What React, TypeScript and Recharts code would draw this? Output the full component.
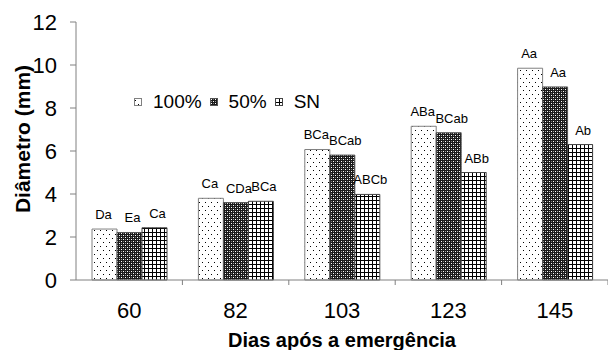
import React from 'react';
import { BarChart, Bar, XAxis, YAxis, LabelList, Label } from 'recharts';

const dias = ['60', '82', '103', '123', '145'];
const s100 = [2.37, 3.8, 6.07, 7.15, 9.85];
const s50 = [2.21, 3.6, 5.81, 6.85, 8.98];
const sSN = [2.43, 3.66, 3.98, 5.0, 6.3];
const lab100 = ['Da', 'Ca', 'BCa', 'ABa', 'Aa'];
const lab50 = ['Ea', 'CDa', 'BCab', 'BCab', 'Aa'];
const labSN = ['Ca', 'BCa', 'ABCb', 'ABb', 'Ab'];
const yTicks = [0, 2, 4, 6, 8, 10, 12];

const series = [
  { key: 'v100', name: '100%', fill: 'url(#pDots)', stroke: '#808080', dx: -1 },
  { key: 'v50', name: '50%', fill: 'url(#pCheck)', stroke: '#555', dx: 3 },
  { key: 'vSN', name: 'SN', fill: 'url(#pGrid)', stroke: '#444', dx: 3 },
];

const data = dias.map((d, i) => ({
  dia: d,
  v100: s100[i],
  v50: s50[i],
  vSN: sSN[i],
  l100: lab100[i],
  l50: lab50[i],
  lSN: labSN[i],
}));

const font = "'Liberation Sans', Arial, sans-serif";

const XTick = (props: any) => {
  const { x, y, payload, width } = props;
  const half = payload.offset ?? width / dias.length / 2;
  return (
    <g>
      <line x1={x + half} x2={x + half} y1={y} y2={y + 5} stroke="#808080" />
      <text x={x} y={y + 38} textAnchor="middle" fontSize={22} fill="#000" fontFamily={font}>
        {payload.value}
      </text>
    </g>
  );
};

const LegendBox = () => (
  <div
    style={{
      position: 'absolute',
      left: 134,
      top: 91,
      display: 'flex',
      alignItems: 'center',
      fontFamily: font,
      fontSize: 19,
      color: '#000',
      lineHeight: '22px',
    }}
  >
    {series.map((s) => (
      <div key={s.key} style={{ display: 'flex', alignItems: 'center', marginRight: 8 }}>
        <svg width={8} height={8} style={{ marginRight: 11 }}>
          <rect x={0.5} y={0.5} width={7} height={7} fill={s.fill} stroke={s.stroke} />
        </svg>
        <span>{s.name}</span>
      </div>
    ))}
  </div>
);

const makeLabel = (dx: number) => (props: any) => {
  const { x, y, width, value } = props;
  return (
    <text
      x={x + width / 2 + dx}
      y={y - 10}
      textAnchor="middle"
      fontSize={13}
      fill="#000"
      fontFamily={font}
    >
      {value}
    </text>
  );
};

export default function App() {
  return (
    <div style={{ position: 'absolute', left: 0, top: 0, width: 608, height: 350, background: '#fff' }}>
      <BarChart
        width={608}
        height={350}
        data={data}
        margin={{ top: 22, right: 0, left: 0, bottom: 0 }}
        barCategoryGap={16}
        barGap={0}
      >
        <defs>
          <pattern id="pDots" width={6} height={8} patternUnits="userSpaceOnUse">
            <rect width={6} height={8} fill="#fff" />
            <rect x={1} y={2} width={1} height={1} fill="#000" />
            <rect x={4} y={6} width={1} height={1} fill="#000" />
          </pattern>
          <pattern id="pCheck" width={4} height={4} patternUnits="userSpaceOnUse">
            <rect width={4} height={4} fill="#1a1a1a" />
            <rect x={1} y={1} width={1} height={1} fill="#fff" />
            <rect x={3} y={3} width={1} height={1} fill="#fff" />
            <rect x={1} y={3} width={1} height={1} fill="#999" />
            <rect x={3} y={1} width={1} height={1} fill="#777" />
          </pattern>
          <pattern id="pGrid" width={4} height={4} patternUnits="userSpaceOnUse">
            <rect width={4} height={4} fill="#fff" />
            <rect x={0} y={0} width={1} height={4} fill="#000" />
            <rect x={0} y={0} width={4} height={1} fill="#000" />
          </pattern>
        </defs>
        <XAxis
          dataKey="dia"
          height={70}
          stroke="#808080"
          tickLine={false}
          tickSize={0}
          tickMargin={0}
          tick={<XTick />}
          interval={0}
        >
          <Label
            value="Dias após a emergência"
            position="insideBottom"
            offset={3}
            style={{ fontWeight: 'bold', fontSize: 20, fill: '#000', fontFamily: font }}
          />
        </XAxis>
        <YAxis
          width={76}
          domain={[0, 12]}
          ticks={yTicks}
          stroke="#808080"
          tickSize={6}
          tickMargin={13}
          tick={{ fontSize: 22, fill: '#000', fontFamily: font }}
        >
          <Label
            content={() => (
              <text
                transform="translate(30,139) rotate(-90)"
                textAnchor="middle"
                fontWeight="bold"
                fontSize={21}
                fill="#000"
                fontFamily={font}
              >
                Diâmetro (mm)
              </text>
            )}
          />
        </YAxis>
        {series.map((s) => (
          <Bar
            key={s.key}
            dataKey={s.key}
            name={s.name}
            fill={s.fill}
            stroke={s.stroke}
            strokeWidth={1}
            isAnimationActive={false}
          >
            <LabelList dataKey={'l' + s.key.slice(1)} content={makeLabel(s.dx)} />
          </Bar>
        ))}
      </BarChart>
      <LegendBox />
    </div>
  );
}
